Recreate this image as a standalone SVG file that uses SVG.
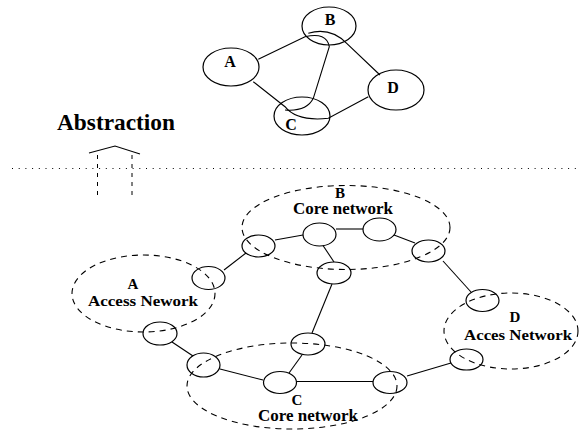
<svg xmlns="http://www.w3.org/2000/svg" width="579" height="430" viewBox="0 0 579 430">
<style>
.n{fill:none;stroke:#000;stroke-width:1.2}
.d{fill:none;stroke:#000;stroke-width:1.1;stroke-dasharray:6,5}
.e{fill:none;stroke:#000;stroke-width:1.1}
.t{font-family:"Liberation Serif","Times New Roman",serif;font-weight:bold;text-anchor:middle;fill:#000}
.l{font-size:16px}
.s{font-size:15px}
</style>
<rect width="579" height="430" fill="#fff"/>
<g id="top-A"><ellipse class="n" cx="231" cy="67" rx="28" ry="19"/><text class="t l" x="230" y="67">A</text></g>
<g id="top-B"><ellipse class="n" cx="329" cy="26" rx="27" ry="19"/><text class="t l" x="330" y="25">B</text></g>
<g id="top-C"><ellipse class="n" cx="302" cy="116" rx="28" ry="19"/><text class="t l" x="291" y="130">C</text></g>
<g id="top-D"><ellipse class="n" cx="396" cy="90" rx="28" ry="20"/><text class="t l" x="393" y="93">D</text></g>
<g id="top-edges">
<path class="e" d="M258.3,59.3 L305,36.7 Q326.7,31.7 329.3,46.7 L313.3,98.3 Q306.7,111.7 285,110"/>
<path class="e" d="M308.3,33.3 Q330,26.7 346.7,43.3 L380,75"/>
<path class="e" d="M253.3,81.7 L285,106.7 Q296.7,121.7 328.3,118.3 L368.3,96.7"/>
</g>
<g id="abstraction">
<text class="t" x="116" y="130" font-size="22.5" textLength="118" lengthAdjust="spacingAndGlyphs">Abstraction</text>
<line x1="12" y1="168.5" x2="578" y2="168.5" stroke="#000" stroke-width="1" stroke-dasharray="1,5.7"/>
<polyline class="e" points="89,153 115,146 140,154"/>
<line x1="97.5" y1="155" x2="97.5" y2="198" stroke="#000" stroke-width="1" stroke-dasharray="4,5"/>
<line x1="132" y1="155" x2="132" y2="198" stroke="#000" stroke-width="1" stroke-dasharray="4,5"/>
</g>
<g id="netB"><ellipse class="d" cx="346" cy="227.5" rx="104" ry="42"/><text class="t s" x="340" y="198">B</text><text class="t l" x="343" y="214" textLength="100" lengthAdjust="spacingAndGlyphs">Core network</text></g>
<g id="netA"><ellipse class="d" cx="143.5" cy="293.5" rx="71.5" ry="38.5"/><text class="t s" x="133" y="289">A</text><text class="t s" x="143" y="306" textLength="110" lengthAdjust="spacingAndGlyphs">Access Nework</text></g>
<g id="netC"><ellipse class="d" cx="292" cy="386" rx="105" ry="43"/><text class="t s" x="297" y="405">C</text><text class="t l" x="308" y="421" textLength="100" lengthAdjust="spacingAndGlyphs">Core network</text></g>
<g id="netD"><ellipse class="d" cx="511" cy="331" rx="67" ry="38"/><text class="t s" x="515" y="322">D</text><text class="t s" x="518" y="340" textLength="108" lengthAdjust="spacingAndGlyphs">Acces Network</text></g>
<g id="connectors">
<line class="e" x1="275" y1="240" x2="303" y2="235"/>
<line class="e" x1="336" y1="229" x2="363" y2="229"/>
<line class="e" x1="394" y1="235" x2="415" y2="243"/>
<line class="e" x1="323" y1="245.5" x2="334" y2="262"/>
<line class="e" x1="224" y1="270" x2="246" y2="253"/>
<line class="e" x1="443" y1="261" x2="471" y2="292"/>
<line class="e" x1="172" y1="342" x2="193" y2="356"/>
<line class="e" x1="220" y1="369" x2="263" y2="380"/>
<line class="e" x1="289" y1="373" x2="302" y2="355"/>
<line class="e" x1="297" y1="381.5" x2="373" y2="381.5"/>
<line class="e" x1="312" y1="333" x2="332" y2="284"/>
<line class="e" x1="407" y1="376" x2="451" y2="363"/>
</g>
<g id="node-b1"><ellipse class="n" cx="258.5" cy="246" rx="16.5" ry="11"/></g>
<g id="node-b2"><ellipse class="n" cx="319.5" cy="234.5" rx="16.5" ry="11.5"/></g>
<g id="node-b3"><ellipse class="n" cx="379.5" cy="229.5" rx="16.5" ry="11.5"/></g>
<g id="node-b4"><ellipse class="n" cx="428.5" cy="251" rx="16.5" ry="11"/></g>
<g id="node-b5"><ellipse class="n" cx="334" cy="273" rx="17" ry="11"/></g>
<g id="node-a1"><ellipse class="n" cx="208.5" cy="278" rx="16.5" ry="11.5"/></g>
<g id="node-a2"><ellipse class="n" cx="160" cy="333.5" rx="17" ry="11.5"/></g>
<g id="node-c1"><ellipse class="n" cx="203.5" cy="365" rx="16.5" ry="12"/></g>
<g id="node-c2"><ellipse class="n" cx="280" cy="382.5" rx="16.5" ry="11"/></g>
<g id="node-c3"><ellipse class="n" cx="308" cy="344" rx="17" ry="11"/></g>
<g id="node-c4"><ellipse class="n" cx="390" cy="382.5" rx="17" ry="11"/></g>
<g id="node-d1"><ellipse class="n" cx="482.5" cy="300.5" rx="16.5" ry="11"/></g>
<g id="node-d2"><ellipse class="n" cx="466.5" cy="359.5" rx="16.5" ry="10.5"/></g>
</svg>
